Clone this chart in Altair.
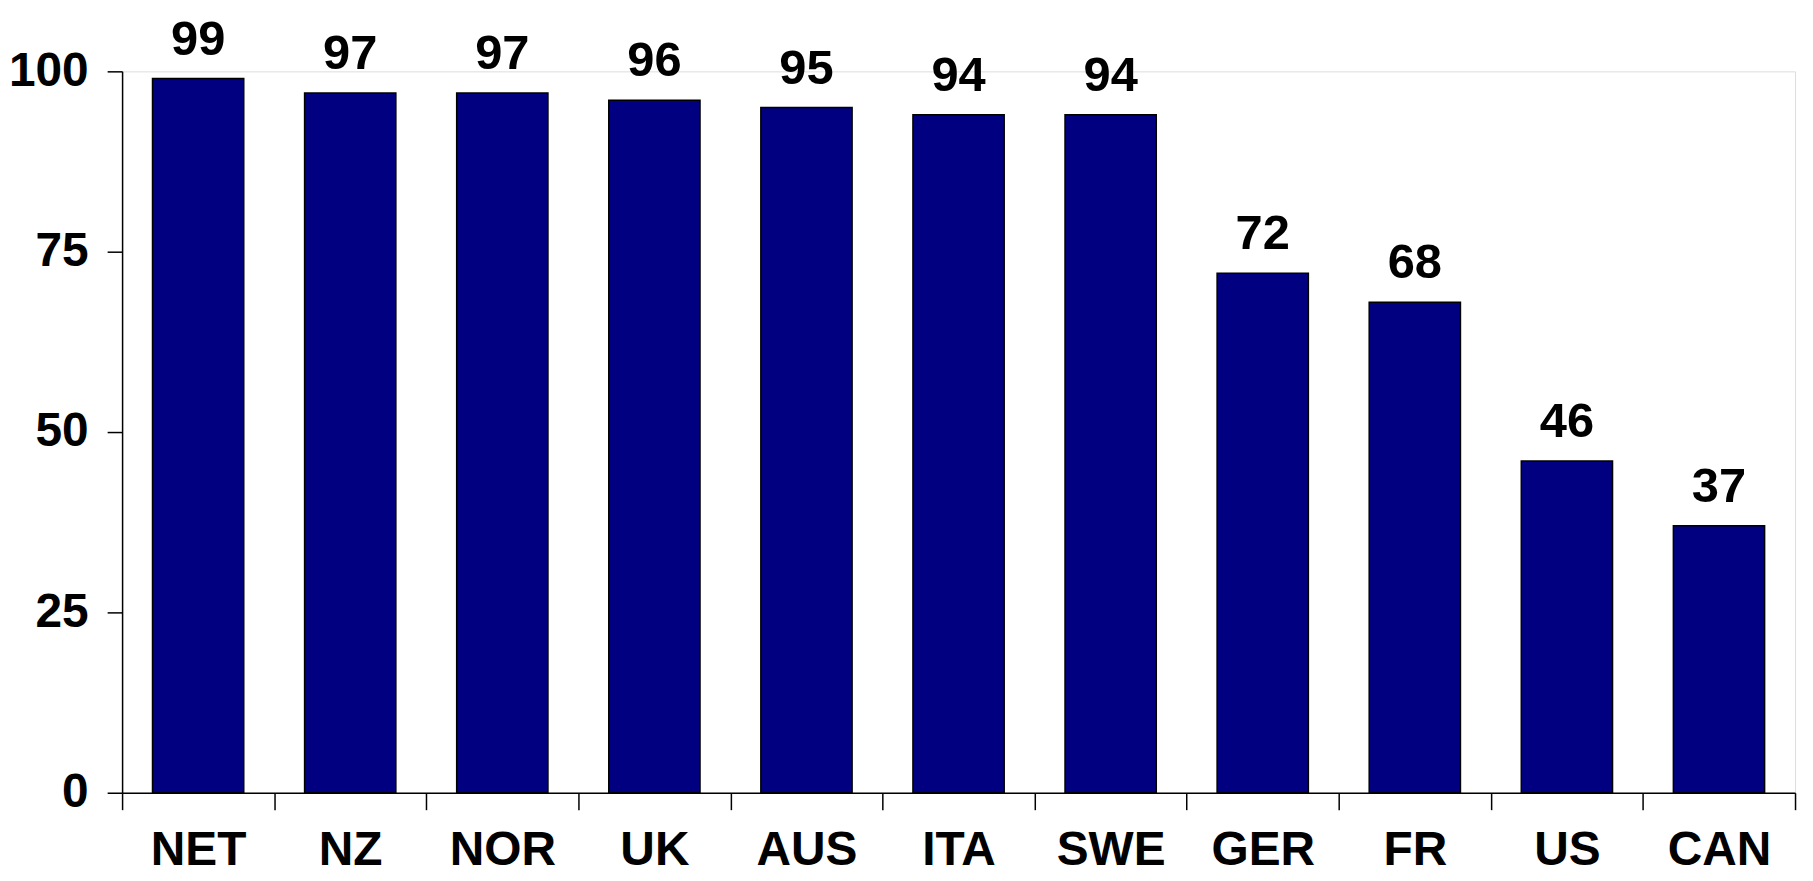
import altair as alt
import pandas as pd

countries = ["NET", "NZ", "NOR", "UK", "AUS", "ITA", "SWE", "GER", "FR", "US", "CAN"]
values = [99, 97, 97, 96, 95, 94, 94, 72, 68, 46, 37]
y_ticks = [0, 25, 50, 75, 100]

df = pd.DataFrame({"country": countries, "value": values})

FONT = "Liberation Sans"

x_enc = alt.X(
    "country:N",
    sort=countries,
    scale=alt.Scale(paddingInner=0, paddingOuter=0),
    axis=alt.Axis(
        title=None,
        labelAngle=0,
        labelFont=FONT,
        labelFontSize=48,
        labelFontWeight="bold",
        labelColor="black",
        labelPadding=17,
        tickBand="extent",
        tickSize=17,
        tickColor="black",
        tickWidth=1.5,
        domainColor="black",
        domainWidth=1.5,
        grid=False,
    ),
)

y_enc = alt.Y(
    "value:Q",
    scale=alt.Scale(domain=[0, 100], nice=False),
    axis=alt.Axis(
        title=None,
        values=y_ticks,
        labelFont=FONT,
        labelFontSize=48,
        labelFontWeight="bold",
        labelColor="black",
        labelPadding=19,
        tickSize=15,
        tickColor="black",
        tickWidth=1.5,
        domainColor="black",
        domainWidth=1.5,
        grid=False,
    ),
)

bars = alt.Chart(df).mark_bar(
    color="#000080", stroke="black", strokeWidth=1.5,
    width=alt.RelativeBandSize(0.6)
).encode(x=x_enc, y=y_enc)

labels = alt.Chart(df).mark_text(
    font=FONT, fontSize=49, fontWeight="bold", color="black",
    baseline="alphabetic", dy=-24
).encode(x=alt.X("country:N", sort=countries), y="value:Q", text="value:Q")

chart = (
    alt.layer(bars, labels)
    .properties(
        width=1679,
        height=724,
        autosize=alt.AutoSizeParams(type="none"),
        padding={"left": 114.5, "top": 62, "right": 10, "bottom": 86},
    )
    .configure_view(stroke=None)
    .configure(background="white")
)

chart.save("out.html", embed_options={"renderer": "svg", "actions": False})
